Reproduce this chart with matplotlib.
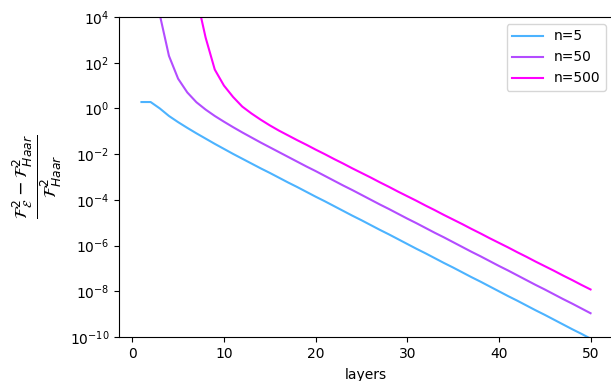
import numpy as np
from matplotlib import pyplot as plt
from matplotlib import ticker

# log10 of the relative fidelity gap per layer
layers = np.arange(1, 51)

log_n5 = [0.28, 0.28, 0.00, -0.33, -0.60, -0.85, -1.09, -1.32, -1.55, -1.77,
          -1.99, -2.20, -2.41, -2.62, -2.82, -3.03, -3.24, -3.44, -3.65, -3.86,
          -4.06, -4.27, -4.48, -4.69, -4.89, -5.10, -5.31, -5.51, -5.72, -5.93,
          -6.14, -6.34, -6.55, -6.76, -6.96, -7.17, -7.38, -7.58, -7.79, -8.00,
          -8.21, -8.41, -8.62, -8.83, -9.03, -9.24, -9.45, -9.66, -9.86, -10.07]

log_n50 = [13.0, 7.5, 4.10, 2.30, 1.30, 0.70, 0.27, -0.05, -0.33, -0.58,
           -0.82, -1.05, -1.27, -1.49, -1.70, -1.91, -2.12, -2.33, -2.54, -2.74,
           -2.95, -3.16, -3.37, -3.57, -3.78, -3.99, -4.20, -4.40, -4.61, -4.82,
           -5.02, -5.23, -5.44, -5.64, -5.85, -6.06, -6.27, -6.47, -6.68, -6.89,
           -7.09, -7.30, -7.51, -7.72, -7.92, -8.13, -8.34, -8.54, -8.75, -8.96]

log_n500 = [60.0, 40.0, 25.0, 15.0, 10.0, 7.0, 4.90, 3.10, 1.70, 1.00,
            0.50, 0.08, -0.22, -0.49, -0.74, -0.97, -1.18, -1.39, -1.59, -1.80,
            -2.00, -2.21, -2.41, -2.62, -2.82, -3.02, -3.23, -3.43, -3.64, -3.84,
            -4.04, -4.25, -4.45, -4.66, -4.86, -5.06, -5.27, -5.47, -5.68, -5.88,
            -6.08, -6.29, -6.49, -6.70, -6.90, -7.10, -7.31, -7.51, -7.72, -7.92]

series = {'n=5': log_n5, 'n=50': log_n50, 'n=500': log_n500}
cols = [plt.cm.cool(0.3), plt.cm.cool(0.7), plt.cm.cool(1.0)]

fig = plt.figure(figsize=(6.11, 3.81), dpi=100)
# axes runs slightly past the right edge, as in the cropped original
ax = fig.add_axes([119/611, 44/381, 494/611, 320/381])

for (lab, vals), c in zip(series.items(), cols):
    ax.plot(layers, 10**np.array(vals), color=c, label=lab)

ax.set_yscale('log')
ax.set_ylim(1e-10, 1e4)
ax.set_xlim(-1.45, 52.45)
ax.set_yticks([10.0**k for k in range(-10, 5, 2)])
ax.yaxis.set_minor_locator(ticker.NullLocator())

ax.set_xlabel('layers', labelpad=5)
ax.set_ylabel(r'$\frac{\mathcal{F}^2_{\mathcal{E}} - \mathcal{F}^2_{Haar}}{\mathcal{F}^2_{Haar}}$',
              fontsize=18)
ax.legend(loc='upper right', handlelength=2.2)

fig.savefig('out.png', dpi=100)
